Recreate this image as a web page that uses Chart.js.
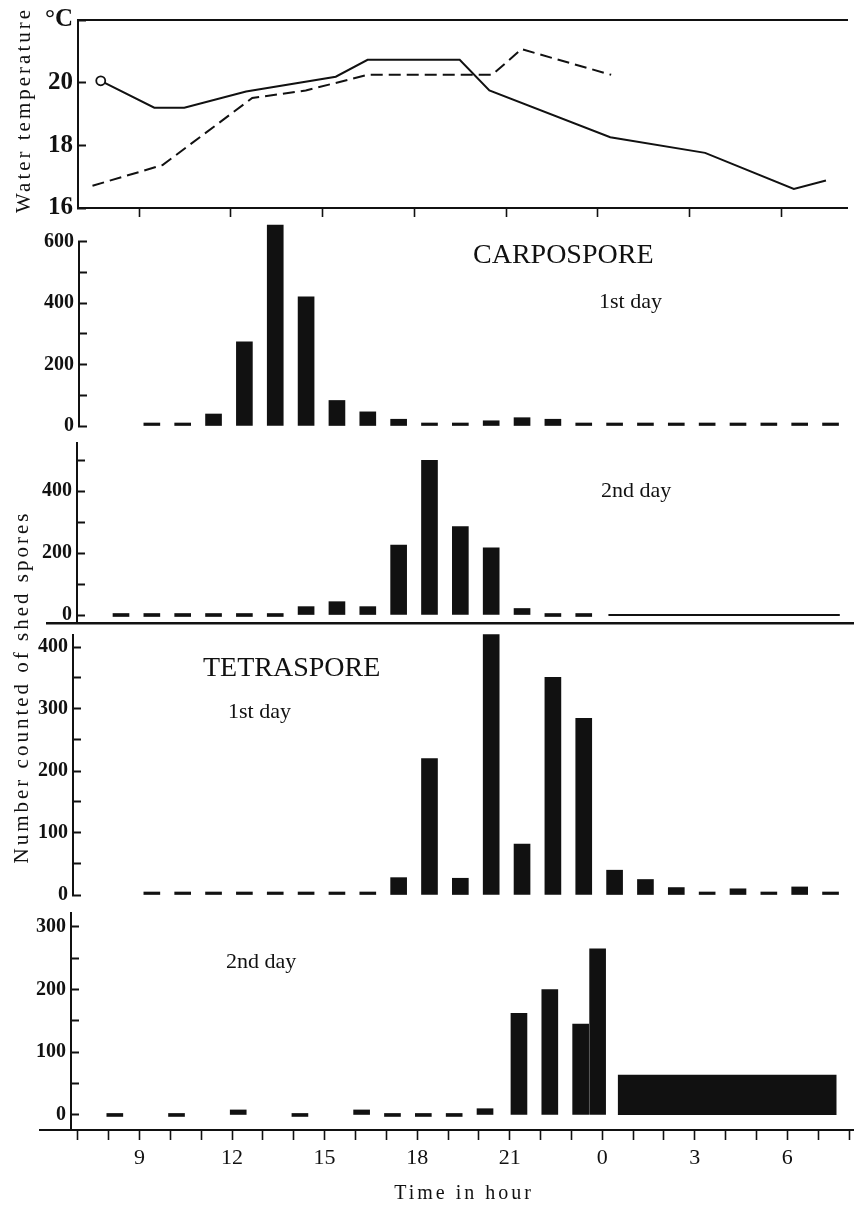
<!DOCTYPE html>
<html lang="en">
<head>
<meta charset="UTF-8">
<title>Shed spores and water temperature</title>
<script src="https://cdn.jsdelivr.net/npm/chart.js@4.4.1/dist/chart.umd.min.js"></script>
<style>
  html, body { margin: 0; padding: 0; background: #fff; }
  #fig { position: relative; width: 854px; height: 1205px; overflow: hidden; font-family: 'Liberation Serif', serif; color: #111; }
  #fig canvas { position: absolute; left: 0; }
  .lbl { position: absolute; white-space: nowrap; line-height: 1; transform: translateY(-50%); }
  .vt { position: absolute; white-space: nowrap; line-height: 1; font-size: 21px; letter-spacing: 3px; transform: translate(-50%, -50%) rotate(-90deg); }
</style>
<script>
  // time axis, hours counted from day 1 (24 = midnight)
  const axisHours = [7, 8, 9, 10, 11, 12, 13, 14, 15, 16, 17, 18, 19, 20, 21, 22, 23, 24, 25, 26, 27, 28, 29, 30, 31, 32]
  const hourLabels = { 9: '9', 12: '12', 15: '15', 18: '18', 21: '21', 24: '0', 27: '3', 30: '6' }
  const topPanelTicks = [9, 12, 15, 18, 21, 24, 27, 30]

  // water temperature (deg C)
  const tempSolidHours = [7.75, 9.5, 10.48, 12.5, 15.43, 16.47, 19.48, 20.45, 24.4, 27.5, 30.4, 31.45]
  const tempSolid = [20.06, 19.2, 19.2, 19.72, 20.19, 20.73, 20.73, 19.75, 18.26, 17.76, 16.61, 16.88]
  const tempDashHours = [7.48, 9.77, 12.7, 14.45, 16.47, 20.54, 21.5, 24.43]
  const tempDash = [16.71, 17.37, 19.51, 19.75, 20.25, 20.25, 21.07, 20.25]

  // shed spores counted per hour, first value = hour given by *Start
  const carpo1Start = 9
  const carpo1 = [0, 0, 39, 274, 653, 420, 83, 46, 22, 0, 0, 17, 27, 22, 0, 0, 0, 0, 0, 0, 0, 0, 0]
  const carpo2Start = 8
  const carpo2 = [0, 0, 0, 0, 0, 0, 27, 43, 27, 226, 499, 285, 217, 21, 0, 0]
  const carpo2ZeroSpan = [24.2, 31.7]
  const tetra1Start = 9
  const tetra1 = [0, 0, 0, 0, 0, 0, 0, 4, 28, 220, 27, 420, 82, 351, 285, 40, 25, 12, 0, 10, 0, 13, 0]
  const tetra2Hours = [8.2, 10.2, 12.2, 14.2, 16.2, 17.2, 18.2, 19.2, 20.2, 21.3, 22.3, 23.3, 23.85]
  const tetra2 = [0, 0, 8, 0, 8, 0, 0, 0, 10, 162, 200, 145, 265]
  const tetra2Span = [24.5, 31.6]
  const tetra2SpanValue = 64

  // y ticks and their labels
  const tempTicks = [16, 17, 18, 19, 20, 21, 22]
  const tempLabels = { 16: '16', 18: '18', 20: '20', 22: '°C' }
  const carpo1Ticks = [0, 100, 200, 300, 400, 500, 600]
  const carpo1Labels = { 0: '0', 200: '200', 400: '400', 600: '600' }
  const carpo2Ticks = [0, 100, 200, 300, 400, 500]
  const carpo2Labels = { 0: '0', 200: '200', 400: '400' }
  const tetra1Ticks = [0, 50, 100, 150, 200, 250, 300, 350, 400]
  const tetra1Labels = { 0: '0', 100: '100', 200: '200', 300: '300', 400: '400' }
  const tetra2Ticks = [0, 50, 100, 150, 200, 250, 300]
  const tetra2Labels = { 0: '0', 100: '100', 200: '200', 300: '300' }

  const INK = '#111'
  const X9 = 139.5, PX_PER_HOUR = 30.85
  const hourAt = px => 9 + (px - X9) / PX_PER_HOUR

  // y axes sit at a given x pixel; labels are right aligned on the axis, so a trailing space keeps a gap
  function yAxis(o) {
    const gap = o.gap || ' '
    return {
      type: 'linear', min: o.min, max: o.max,
      position: { x: hourAt(o.at) },
      afterBuildTicks: s => { s.ticks = o.ticks.map(v => ({ value: v })) },
      afterFit: s => { s.paddingTop = 0; s.paddingBottom = 0 },
      border: { color: INK, width: 2 },
      grid: { drawOnChartArea: false, tickLength: -9, tickWidth: 2, tickColor: INK },
      ticks: { padding: 14, color: INK, font: { size: o.size || 20, weight: 'bold' },
        callback: v => (o.labels[v] !== undefined ? o.labels[v] + gap : '') }
    }
  }

  function xAxis(o) {
    return {
      type: 'linear', min: hourAt(o.left), max: hourAt(854), offset: false,
      display: o.display !== false, position: o.position || 'bottom',
      afterBuildTicks: s => { s.ticks = (o.ticks || []).map(v => ({ value: v })) },
      afterFit: s => { s.height = o.height || 0; s.paddingLeft = 0; s.paddingRight = 0 },
      border: { display: o.border !== false, color: INK, width: o.bw || 2 },
      grid: { drawOnChartArea: false, offset: false, drawTicks: !!o.tl, tickLength: o.tl || 0, tickWidth: 1.6, tickColor: INK },
      ticks: { display: !!o.labels, padding: 5, maxRotation: 0, autoSkip: false, color: INK, font: { size: 22 },
        callback: v => (o.labels ? (o.labels[v] ?? '') : '') }
    }
  }

  function hourlyBars(start, values) {
    return values.map((v, i) => ({ x: start + i + 0.4, y: v }))
  }

  function barSet(data) {
    return { type: 'bar', data: data, backgroundColor: INK, barThickness: 16, minBarLength: 3, clip: false, grouped: false }
  }

  function baseOptions(padding, scales) {
    return {
      responsive: false, animation: false,
      layout: { padding: padding },
      plugins: { legend: { display: false }, tooltip: { enabled: false } },
      scales: scales
    }
  }

  window.onload = function() {
    Chart.defaults.font.family = "'Liberation Serif', serif"
    Chart.defaults.color = INK

    new Chart(document.getElementById('temp'), {
      type: 'line',
      data: {
        datasets: [
          { data: tempSolidHours.map((h, i) => ({ x: h, y: tempSolid[i] })), borderColor: INK, borderWidth: 2, tension: 0,
            pointRadius: c => c.dataIndex === 0 ? 4.5 : 0, pointBorderWidth: 1.8, pointBorderColor: INK, pointBackgroundColor: '#fff' },
          { data: tempDashHours.map((h, i) => ({ x: h, y: tempDash[i] })), borderColor: INK, borderWidth: 2, tension: 0,
            borderDash: [12, 6], pointRadius: 0 }
        ]
      },
      options: baseOptions({ left: 78, right: 0, top: 20, bottom: 7 }, {
        x: xAxis({ left: 78, ticks: topPanelTicks, tl: 9, height: 10 }),
        x2: xAxis({ left: 78, position: 'top', height: 0 }),
        y: yAxis({ min: 16, max: 22, at: 78, ticks: tempTicks, labels: tempLabels, size: 25, gap: '\u2009' })
      })
    })

    new Chart(document.getElementById('carpo1'), {
      type: 'bar',
      data: { datasets: [barSet(hourlyBars(carpo1Start, carpo1))] },
      options: baseOptions({ left: 40, right: 0, top: 26.5, bottom: 9 }, {
        x: xAxis({ left: 40, display: false }),
        y: yAxis({ min: 0, max: 600, at: 79, ticks: carpo1Ticks, labels: carpo1Labels })
      })
    })

    new Chart(document.getElementById('carpo2'), {
      type: 'bar',
      data: { datasets: [
        barSet(hourlyBars(carpo2Start, carpo2)),
        { type: 'line', data: carpo2ZeroSpan.map(h => ({ x: h, y: 0 })), borderColor: INK, borderWidth: 2, pointRadius: 0 }
      ] },
      options: baseOptions({ left: 47, right: 0, top: 5, bottom: 15.25 }, {
        x: xAxis({ left: 47, height: 0, bw: 2.5 }),
        y: yAxis({ min: -25, max: 555, at: 77, ticks: carpo2Ticks, labels: carpo2Labels })
      })
    })

    new Chart(document.getElementById('tetra1'), {
      type: 'bar',
      data: { datasets: [barSet(hourlyBars(tetra1Start, tetra1))] },
      options: baseOptions({ left: 40, right: 0, top: 4.6, bottom: 10 }, {
        x: xAxis({ left: 40, display: false }),
        y: yAxis({ min: 0, max: 420, at: 73, ticks: tetra1Ticks, labels: tetra1Labels })
      })
    })

    new Chart(document.getElementById('tetra2'), {
      type: 'bar',
      data: { datasets: [
        barSet(tetra2Hours.map((h, i) => ({ x: h, y: tetra2[i] }))),
        { type: 'line', data: tetra2Span.map(h => ({ x: h, y: tetra2SpanValue })), borderColor: 'rgba(0,0,0,0)', borderWidth: 0,
          pointRadius: 0, fill: 'origin', backgroundColor: INK }
      ] },
      options: baseOptions({ left: 40, right: 0, top: 8.2, bottom: 5 }, {
        x: xAxis({ left: 40, ticks: axisHours, labels: hourLabels, tl: 10, height: 70 }),
        y: yAxis({ min: -24, max: 322, at: 71, ticks: tetra2Ticks, labels: tetra2Labels })
      })
    })
  }
</script>
</head>
<body>
<div id="fig">
  <canvas id="temp" width="854" height="225" style="top:0px"></canvas>
  <canvas id="carpo1" width="854" height="220" style="top:215px"></canvas>
  <canvas id="carpo2" width="854" height="200" style="top:438px"></canvas>
  <canvas id="tetra1" width="854" height="275" style="top:630px"></canvas>
  <canvas id="tetra2" width="854" height="300" style="top:905px"></canvas>

  <div class="vt" style="left:23px;top:110px">Water temperature</div>
  <div class="vt" style="left:21px;top:687px">Number counted of shed spores</div>
  <div class="lbl" style="left:473px;top:254px;font-size:28px">CARPOSPORE</div>
  <div class="lbl" style="left:599px;top:301px;font-size:22px">1st day</div>
  <div class="lbl" style="left:601px;top:490px;font-size:22px">2nd day</div>
  <div class="lbl" style="left:203px;top:667px;font-size:28px">TETRASPORE</div>
  <div class="lbl" style="left:228px;top:711px;font-size:22px">1st day</div>
  <div class="lbl" style="left:226px;top:961px;font-size:22px">2nd day</div>
  <div class="lbl" style="left:464px;top:1192px;font-size:20px;letter-spacing:3px;transform:translate(-50%,-50%)">Time in hour</div>
</div>
</body>
</html>
